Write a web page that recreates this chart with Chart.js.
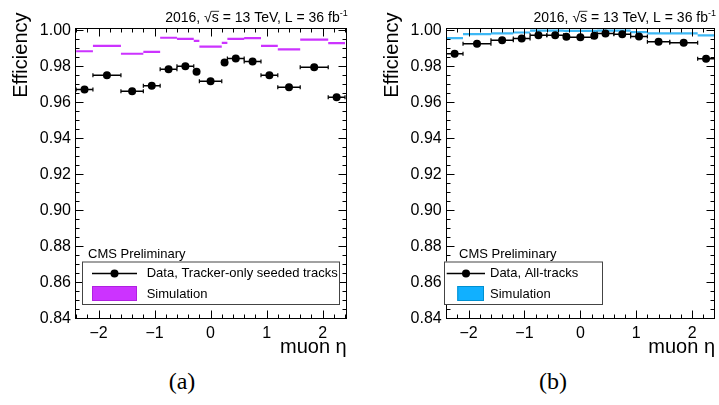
<!DOCTYPE html>
<html><head><meta charset="utf-8">
<script src="https://cdn.jsdelivr.net/npm/chart.js@4.4.1/dist/chart.umd.min.js"></script>
<style>
html,body{margin:0;padding:0;background:#fff;}
body{width:719px;height:405px;overflow:hidden;position:relative;}
canvas{position:absolute;top:0;}
.cap{position:absolute;top:368px;width:60px;text-align:center;font-family:"Liberation Serif","DejaVu Serif",serif;font-size:24px;color:#000;}
</style></head><body>
<canvas id="c1" width="360" height="360" style="left:0px"></canvas>
<canvas id="c2" width="359" height="360" style="left:360px"></canvas>
<div class="cap" style="left:152px">(a)</div>
<div class="cap" style="left:523px">(b)</div>
<script>
// ---- data ----
const etaBinEdges = [-2.4,-2.1,-1.6,-1.2,-0.9,-0.6,-0.3,-0.2,0.2,0.3,0.6,0.9,1.2,1.6,2.1,2.4];
const yTickValues = [0.84,0.86,0.88,0.90,0.92,0.94,0.96,0.98,1.00];
const xTickValues = [-2,-1,0,1,2];
const effDataTrackerOnly = [0.9671,0.9750,0.9661,0.9691,0.9783,0.9800,0.9769,0.9717,0.9821,0.9843,0.9826,0.9750,0.9683,0.9794,0.9628];
const effSimTrackerOnly  = [0.9883,0.9913,0.9869,0.9880,0.9958,0.9952,0.9941,0.9909,0.9930,0.9952,0.9956,0.9913,0.9893,0.9948,0.9928];
const effDataAllTracks   = [0.9869,0.9924,0.9944,0.9954,0.9972,0.9972,0.9963,0.9961,0.9969,0.9982,0.9978,0.9965,0.9936,0.9930,0.9841];
const effSimAllTracks    = [0.9956,0.9978,0.9982,0.9987,0.9997,0.9997,0.9996,0.9996,0.9996,0.9997,0.9997,0.9989,0.9982,0.9982,0.9971];
const headerText = '2016, \u221As = 13 TeV, L = 36 fb';
const headerSup = '-1';
const legendHeader = 'CMS Preliminary';
const labelsA = ['Data, Tracker-only seeded tracks','Simulation'];
const labelsB = ['Data, All-tracks','Simulation'];
const yTitle = 'Efficiency';
const xTitle = 'muon \u03B7';

function binSegments(values){
  const out = [];
  values.forEach((v,i)=>{
    out.push({x:etaBinEdges[i],y:v},{x:etaBinEdges[i+1],y:v},{x:etaBinEdges[i+1],y:null});
  });
  return out;
}
function binCenters(values){
  return values.map((v,i)=>({x:(etaBinEdges[i]+etaBinEdges[i+1])/2,y:v,lo:etaBinEdges[i],hi:etaBinEdges[i+1]}));
}

const FONT = '"Liberation Sans", Arial, Helvetica, sans-serif';

const rootFrame = {
  id:'rootFrame',
  afterDatasetsDraw(chart){
    const {ctx, chartArea:a, scales:{x,y}} = chart;
    ctx.save();
    const pts = chart.data.datasets[0].data;
    ctx.strokeStyle='#000'; ctx.lineWidth=1.2;
    pts.forEach(p=>{
      const py = y.getPixelForValue(p.y);
      [p.lo,p.hi].forEach(e=>{
        const px = x.getPixelForValue(e);
        if(px < a.left+1 || px > a.right-1) return;
        ctx.beginPath(); ctx.moveTo(px,py-2); ctx.lineTo(px,py+2); ctx.stroke();
      });
    });
    ctx.strokeStyle='#000'; ctx.lineWidth=1;
    const L = Math.round(a.left)+0.5, R = Math.round(a.right)-0.5, T = Math.round(a.top)+0.5, B = Math.round(a.bottom)-0.5;
    ctx.strokeRect(L,T,R-L,B-T);
    const ln=(x1,y1,x2,y2)=>{ctx.beginPath();ctx.moveTo(x1,y1);ctx.lineTo(x2,y2);ctx.stroke();};
    for(let k=0;k<=32;k++){
      const v = 0.84 + k*0.005;
      const len = (k%4===0)?8:4;
      const py = Math.round(y.getPixelForValue(v))+0.5;
      if(py<T-0.1||py>B+0.1) continue;
      ln(L,py,L+len,py); ln(R,py,R-len,py);
    }
    for(let k=-12;k<=12;k++){
      const v = k*0.2;
      const len = (k%5===0)?8:4;
      const px = Math.round(x.getPixelForValue(v))+0.5;
      if(px<L-0.1||px>R+0.1) continue;
      ln(px,B,px,B-len); ln(px,T,px,T+len);
    }
    ctx.restore();
  }
};

const cmsText = {
  id:'cmsText',
  afterDraw(chart, args, o){
    const {ctx, chartArea:a} = chart;
    ctx.save();
    ctx.fillStyle='#000';
    ctx.font = '14px '+FONT;
    ctx.textBaseline='alphabetic';
    const supFont = '9px '+FONT;
    ctx.font = supFont; const supW = ctx.measureText(headerSup).width;
    ctx.font = '14px '+FONT;
    const hr = a.right + 1;
    ctx.textAlign='right';
    ctx.fillText(headerText, hr - supW, 21.7);
    const fullW = ctx.measureText(headerText).width;
    const pre = ctx.measureText('2016, \u221A').width;
    const sW = ctx.measureText('s').width;
    const x0 = hr - supW - fullW + pre;
    ctx.lineWidth=0.8; ctx.strokeStyle='#000';
    ctx.beginPath(); ctx.moveTo(x0-0.5, 11.3); ctx.lineTo(x0+sW+0.3, 11.3); ctx.stroke();
    ctx.font = supFont; ctx.textAlign='left';
    ctx.fillText(headerSup, hr - supW, 16);
    ctx.font = '20px '+FONT;
    ctx.save();
    ctx.translate(a.left - o.yTitleOffset, 12.5);
    ctx.rotate(-Math.PI/2);
    ctx.textAlign='right'; ctx.textBaseline='alphabetic';
    ctx.fillText(yTitle,0,0);
    ctx.restore();
    ctx.textAlign='right'; ctx.textBaseline='alphabetic';
    ctx.fillText(xTitle, a.right, 352.5);
    ctx.font = '13px '+FONT; ctx.textAlign='left';
    ctx.fillText(legendHeader, o.hdrX, 257.5);
    const bx=o.box[0], by=o.box[1], bw=o.box[2], bh=o.box[3];
    ctx.fillStyle='#fff'; ctx.fillRect(bx,by,bw,bh);
    ctx.strokeStyle='#444'; ctx.lineWidth=1; ctx.strokeRect(bx+0.5,by+0.5,bw,bh);
    const ds = chart.data.datasets;
    ctx.strokeStyle='#000'; ctx.lineWidth=1.5;
    ctx.beginPath(); ctx.moveTo(o.line[0],273.5); ctx.lineTo(o.line[1],273.5); ctx.stroke();
    ctx.fillStyle='#000'; ctx.beginPath(); ctx.arc(o.dot,273.5,4,0,Math.PI*2); ctx.fill();
    ctx.textBaseline='middle';
    ctx.fillText(ds[0].label, o.textX, 273.5);
    ctx.fillStyle=o.simFill; ctx.fillRect(o.simBox[0],286,o.simBox[1]-o.simBox[0],15);
    ctx.strokeStyle=o.simEdge; ctx.lineWidth=1; ctx.strokeRect(o.simBox[0]+0.5,286.5,o.simBox[1]-o.simBox[0]-1,14);
    ctx.fillStyle='#000';
    ctx.fillText(ds[2].label, o.textX, 294);
    ctx.restore();
  }
};

function makeChart(id, dataVals, simVals, labels, cfg){
  return new Chart(document.getElementById(id), {
    type:'scatter',
    data:{datasets:[
      {label:labels[0], type:'scatter', data:binCenters(dataVals), pointRadius:4, pointHoverRadius:4,
       backgroundColor:'#000', borderColor:'#000', borderWidth:0, order:0},
      {label:'errors', type:'line', data:binSegments(dataVals), borderColor:'#000', borderWidth:1.5,
       pointRadius:0, spanGaps:false, fill:false, order:1},
      {label:labels[1], type:'line', data:binSegments(simVals), borderColor:cfg.simLine, borderWidth:2.2,
       pointRadius:0, spanGaps:false, fill:false, order:2}
    ]},
    options:{
      responsive:false, animation:false, devicePixelRatio:1,
      layout:{padding:{top:28, right:cfg.padRight, left:0, bottom:0}},
      plugins:{legend:{display:false}, tooltip:{enabled:false}, cmsText:cfg.text},
      events:[],
      scales:{
        x:{type:'linear', min:cfg.xmin, max:cfg.xmax,
           afterBuildTicks:s=>{s.ticks = xTickValues.map(v=>({value:v}));},
           ticks:{callback:v=> v<0 ? '\u2212'+Math.abs(v) : String(v), font:{family:FONT,size:16}, color:'#000',
                  padding:5, maxRotation:0, autoSkip:false},
           grid:{display:false, drawTicks:false}, border:{display:false},
           afterFit:s=>{s.height = 41.5;}},
        y:{type:'linear', min:0.84, max:1.0012,
           afterBuildTicks:s=>{s.ticks = yTickValues.map(v=>({value:v}));},
           ticks:{callback:v=>Number(v).toFixed(2), font:{family:FONT,size:16}, color:'#000', padding:4, autoSkip:false},
           grid:{display:false, drawTicks:false}, border:{display:false},
           afterFit:s=>{s.width = cfg.yWidth;}}
      }
    },
    plugins:[rootFrame, cmsText]
  });
}

makeChart('c1', effDataTrackerOnly, effSimTrackerOnly, labelsA, {
  padRight:13.3, yWidth:75, xmin:-2.42, xmax:2.43, simLine:'#cc33ff',
  text:{yTitleOffset:47.7, hdrX:88, box:[82,261.5,257,42.5], line:[92,137], dot:114.5, textX:146.7,
        simBox:[92,137], simFill:'#cc33ff', simEdge:'#b020e0'}
});
makeChart('c2', effDataAllTracks, effSimAllTracks, labelsB, {
  padRight:4, yWidth:85.7, xmin:-2.41, xmax:2.41, simLine:'#3db8f5',
  text:{yTitleOffset:47.7, hdrX:99, box:[84,261.5,158,42.5], line:[86.7,125], dot:106, textX:130,
        simBox:[97.3,124], simFill:'#11b0ff', simEdge:'#0090d0'}
});
</script>
</body></html>
